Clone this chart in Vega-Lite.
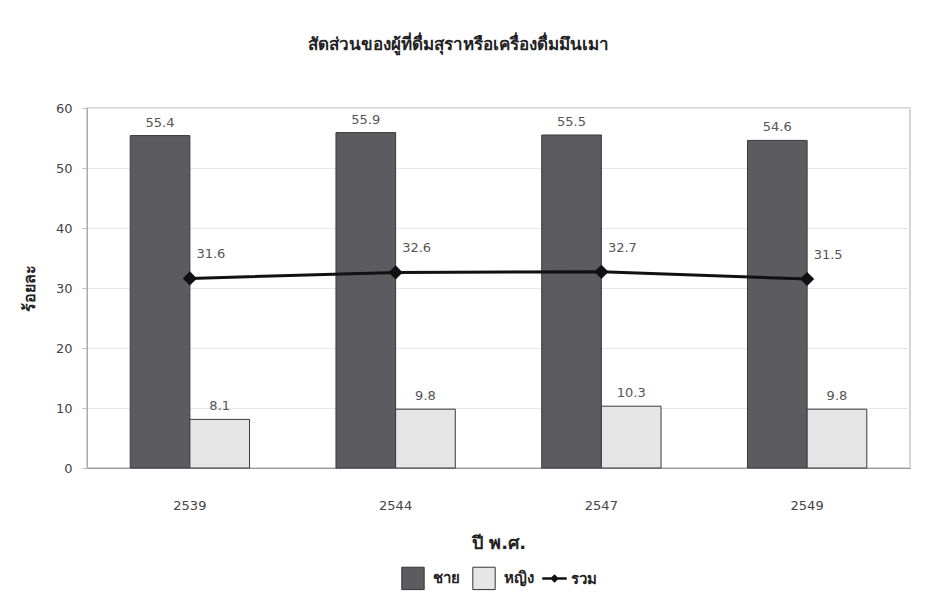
{
  "$schema": "https://vega.github.io/schema/vega-lite/v6.json",
  "width": 926,
  "height": 608,
  "autosize": {"type": "fit", "contains": "padding"},
  "padding": {"left": 21, "top": 36, "right": 16, "bottom": 16},
  "background": "white",
  "title": {
    "text": "สัดส่วนของผู้ที่ดื่มสุราหรือเครื่องดื่มมึนเมา",
    "fontSize": 17,
    "fontWeight": "bold",
    "color": "#222",
    "anchor": "middle",
    "dx": -40,
    "offset": 48
  },
  "config": {
    "font": "DejaVu Sans",
    "view": {"stroke": "#c8c8c8", "strokeWidth": 1.5},
    "legend": {"layout": {"bottom": {"anchor": "middle", "direction": "horizontal"}}}
  },
  "data": {
    "values": [
      {"year": "2539", "series": "ชาย", "value": 55.4},
      {"year": "2544", "series": "ชาย", "value": 55.9},
      {"year": "2547", "series": "ชาย", "value": 55.5},
      {"year": "2549", "series": "ชาย", "value": 54.6},
      {"year": "2539", "series": "หญิง", "value": 8.1},
      {"year": "2544", "series": "หญิง", "value": 9.8},
      {"year": "2547", "series": "หญิง", "value": 10.3},
      {"year": "2549", "series": "หญิง", "value": 9.8},
      {"year": "2539", "series": "รวม", "value": 31.6},
      {"year": "2544", "series": "รวม", "value": 32.6},
      {"year": "2547", "series": "รวม", "value": 32.7},
      {"year": "2549", "series": "รวม", "value": 31.5}
    ]
  },
  "encoding": {
    "x": {
      "field": "year",
      "type": "nominal",
      "scale": {"paddingInner": 0.42, "paddingOuter": 0.21},
      "axis": {
        "title": "ปี พ.ศ.",
        "titleFontSize": 18,
        "titleFontWeight": "bold",
        "titleColor": "#222",
        "titlePadding": 22,
        "labelAngle": 0,
        "labelFontSize": 13,
        "labelColor": "#444",
        "labelPadding": 31,
        "ticks": false,
        "domainColor": "#999",
        "grid": false
      }
    },
    "y": {
      "field": "value",
      "type": "quantitative",
      "scale": {"domain": [0, 60], "nice": false},
      "axis": {
        "title": "ร้อยละ",
        "titleFontSize": 16,
        "titleFontWeight": "bold",
        "titleColor": "#222",
        "titlePadding": 18,
        "values": [0, 10, 20, 30, 40, 50, 60],
        "labelFontSize": 13,
        "labelColor": "#444",
        "labelPadding": 10,
        "tickColor": "#bbb",
        "tickSize": 5,
        "domainColor": "#aaa",
        "gridColor": "#e6e6e6"
      }
    }
  },
  "layer": [
    {
      "transform": [{"filter": "datum.series !== 'รวม'"}],
      "mark": {"type": "bar", "stroke": "#3a3a3a", "strokeWidth": 1},
      "encoding": {
        "xOffset": {"field": "series", "type": "nominal", "sort": ["ชาย", "หญิง"], "scale": {"paddingInner": 0}},
        "color": {
          "field": "series",
          "type": "nominal",
          "sort": ["ชาย", "หญิง"],
          "scale": {"domain": ["ชาย", "หญิง"], "range": ["#5c5c60", "#e6e6e6"]},
          "legend": {
            "orient": "bottom",
            "title": null,
            "direction": "horizontal",
            "symbolType": "square",
            "symbolSize": 500,
            "symbolStrokeColor": "#333",
            "symbolStrokeWidth": 1,
            "labelFontSize": 15,
            "labelFontWeight": "bold",
            "labelColor": "#222",
            "labelOffset": 8,
            "columnPadding": 10,
            "offset": 14
          }
        }
      }
    },
    {
      "transform": [{"filter": "datum.series !== 'รวม'"}],
      "mark": {"type": "text", "baseline": "bottom", "dy": -6, "fontSize": 13, "color": "#555"},
      "encoding": {
        "xOffset": {"field": "series", "type": "nominal", "sort": ["ชาย", "หญิง"], "scale": {"paddingInner": 0}},
        "text": {"field": "value", "type": "quantitative", "format": ".1f"}
      }
    },
    {
      "transform": [{"filter": "datum.series === 'รวม'"}],
      "mark": {"type": "line", "color": "#111", "strokeWidth": 3, "point": {"shape": "diamond", "size": 130, "filled": true, "color": "#111"}},
      "encoding": {
        "stroke": {
          "field": "series",
          "type": "nominal",
          "scale": {"domain": ["รวม"], "range": ["#111"]},
          "legend": {
            "orient": "bottom",
            "title": null,
            "symbolType": "M-1,-0.1H1V0.1H-1Z M0,-0.35L0.35,0L0,0.35L-0.35,0Z",
            "symbolFillColor": "#111",
            "symbolStrokeWidth": 0,
            "symbolSize": 600,
            "labelFontSize": 15,
            "labelFontWeight": "bold",
            "labelColor": "#222",
            "offset": 14
          }
        }
      }
    },
    {
      "transform": [{"filter": "datum.series === 'รวม'"}],
      "mark": {"type": "text", "dx": 21, "dy": -24, "fontSize": 13, "color": "#555"},
      "encoding": {
        "text": {"field": "value", "type": "quantitative", "format": ".1f"}
      }
    }
  ],
  "resolve": {"scale": {"color": "independent", "stroke": "independent"}}
}
